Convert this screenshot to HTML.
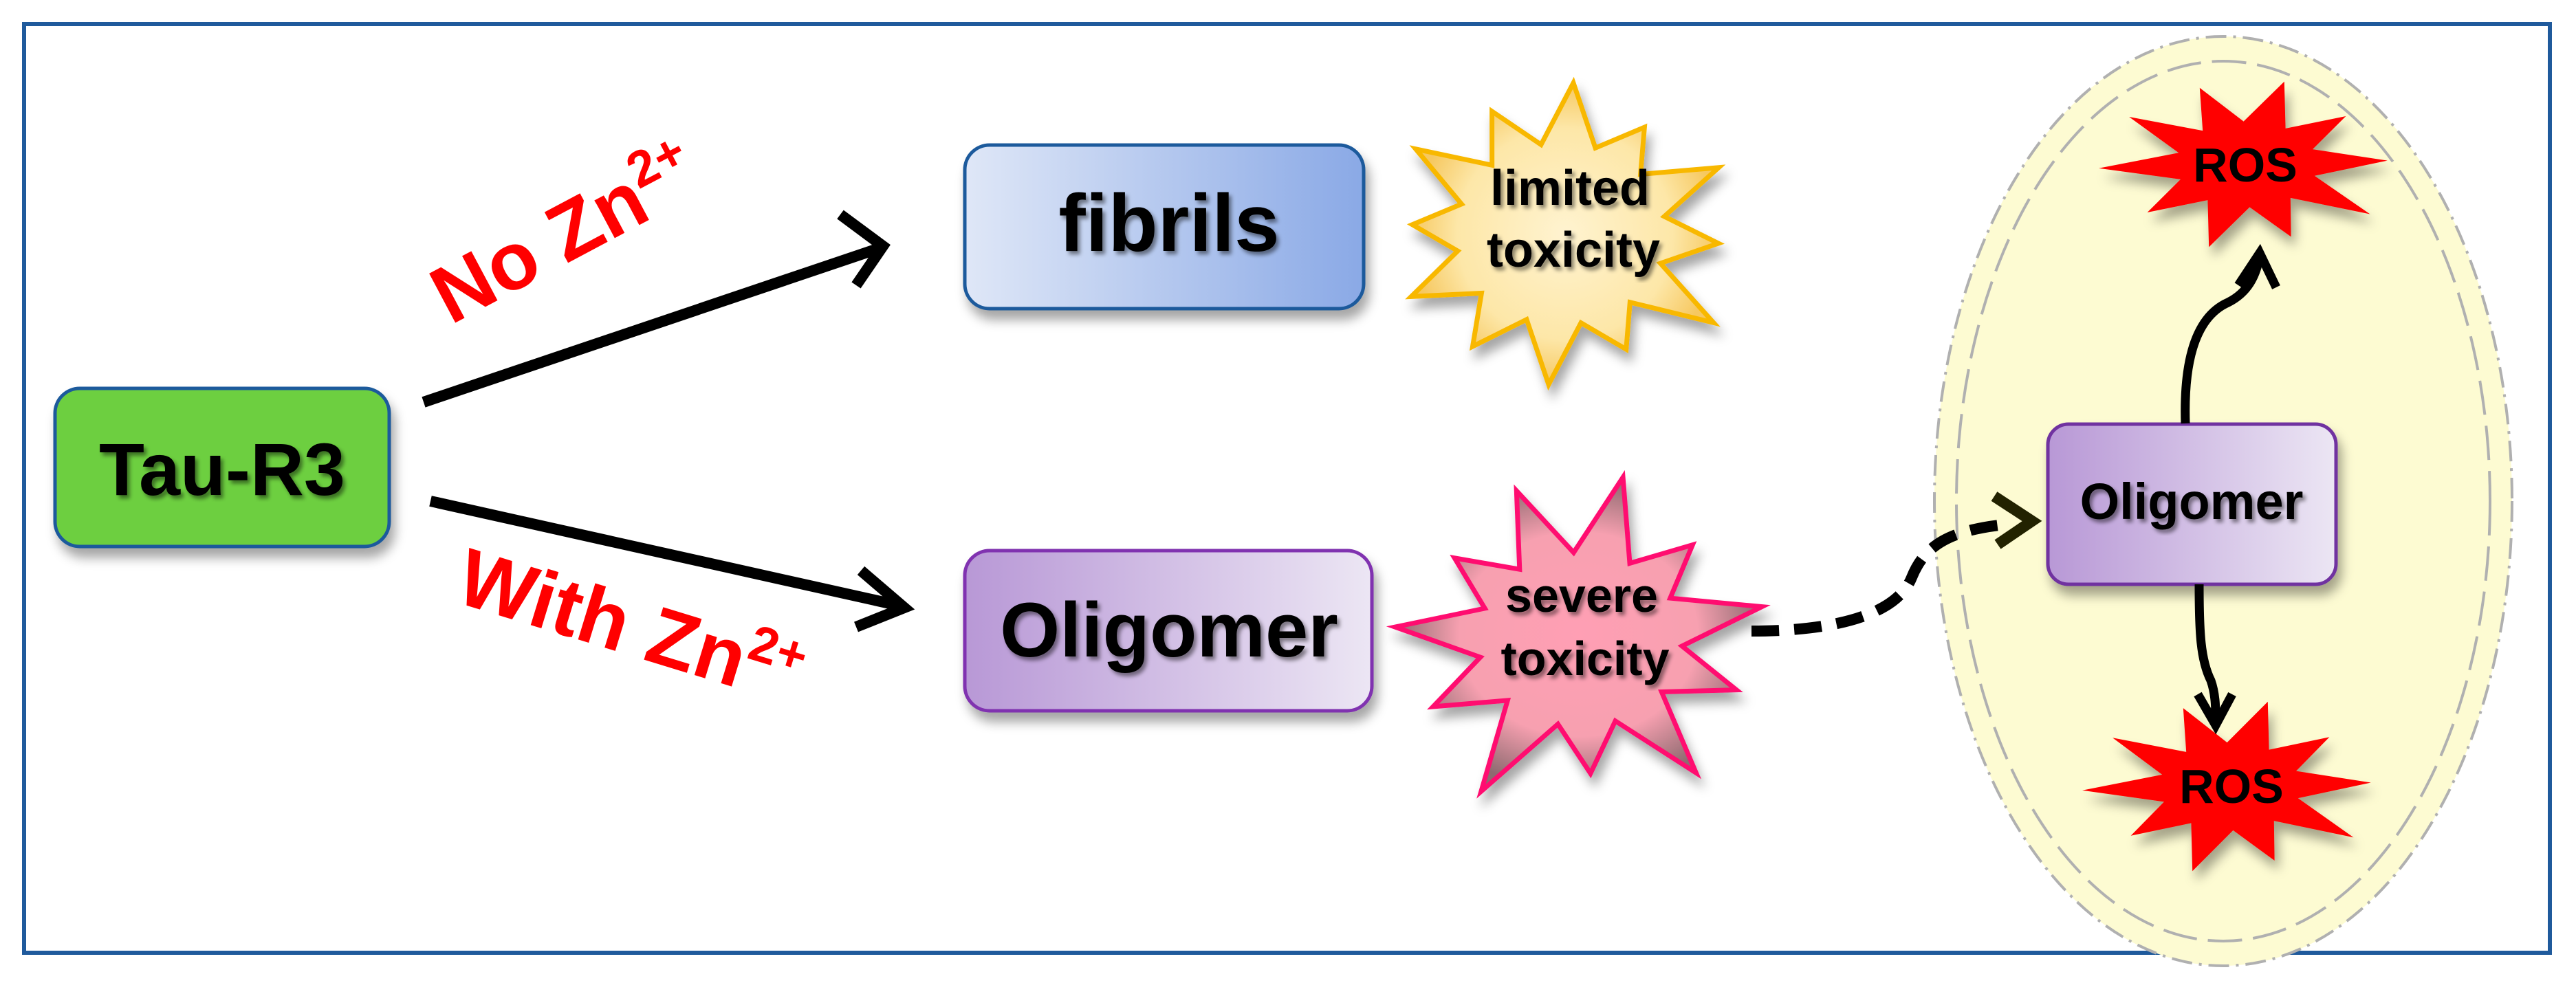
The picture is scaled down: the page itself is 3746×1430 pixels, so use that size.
<!DOCTYPE html>
<html><head><meta charset="utf-8"><style>
html,body{margin:0;padding:0;background:#fff;}
svg{display:block;}
text{font-family:"Liberation Sans",sans-serif;font-weight:bold;}
</style></head><body>
<svg id="s" width="3746" height="1430" viewBox="0 0 3746 1430" xmlns="http://www.w3.org/2000/svg">
<defs>
<linearGradient id="gF" x1="0" x2="1" y1="0" y2="0"><stop offset="0" stop-color="#dfe7f7"/><stop offset="1" stop-color="#8aa9e6"/></linearGradient>
<linearGradient id="gO" x1="0" x2="1" y1="0" y2="0"><stop offset="0" stop-color="#b898d6"/><stop offset="1" stop-color="#ece6f4"/></linearGradient>
<radialGradient id="gY"><stop offset="0" stop-color="#fff3d0"/><stop offset="0.7" stop-color="#fde7a8"/><stop offset="1" stop-color="#f6c860"/></radialGradient>
<radialGradient id="gP"><stop offset="0" stop-color="#ff9fb4"/><stop offset="0.65" stop-color="#f7a0b0"/><stop offset="1" stop-color="#8e6a70"/></radialGradient>
<filter id="sh" x="-10%" y="-10%" width="130%" height="140%"><feDropShadow dx="6" dy="14" stdDeviation="8" flood-color="#000" flood-opacity="0.35"/></filter>
<filter id="ts"><feDropShadow dx="4" dy="5" stdDeviation="3" flood-color="#000" flood-opacity="0.45"/></filter>
</defs>
<rect x="35" y="35" width="3673" height="1351" fill="#fff" stroke="#1f5a9c" stroke-width="6"/>
<ellipse cx="3233" cy="729" rx="420" ry="676" fill="#fdfbd2" stroke="#b0b0b0" stroke-width="4" stroke-dasharray="30 10 4 10"/>
<ellipse cx="3233" cy="729" rx="388" ry="640" fill="none" stroke="#b0b0b0" stroke-width="4" stroke-dasharray="50 16"/>
<rect x="80" y="565" width="486" height="230" rx="36" fill="#6dcf41" stroke="#1f5a9c" stroke-width="5" filter="url(#sh)"/>
<text x="323" y="720" font-size="108" text-anchor="middle" filter="url(#ts)">Tau-R3</text>
<rect x="1403" y="211" width="580" height="238" rx="36" fill="url(#gF)" stroke="#1f5a9c" stroke-width="5" filter="url(#sh)"/>
<text x="1700" y="365" font-size="118" text-anchor="middle" filter="url(#ts)">fibrils</text>
<rect x="1403" y="801" width="592" height="233" rx="36" fill="url(#gO)" stroke="#8030b0" stroke-width="5" filter="url(#sh)"/>
<text x="1700" y="955" font-size="112" text-anchor="middle" filter="url(#ts)">Oligomer</text>
<g stroke="#000" stroke-width="16" fill="none">
<line x1="616" y1="585" x2="1282" y2="360"/>
<polyline points="1222,312 1284,358 1245,415"/>
<line x1="626" y1="729" x2="1312" y2="882"/>
<polyline points="1252,830 1315,884 1245,912"/>
</g>
<text transform="translate(840,375) rotate(-28)" font-size="118" fill="#ff0000" text-anchor="middle">No Zn<tspan font-size="74" dy="-46">2+</tspan></text>
<text transform="translate(905,950) rotate(17)" font-size="118" fill="#ff0000" text-anchor="middle">With Zn<tspan font-size="74" dy="-46">2+</tspan></text>
<polygon id="st1" fill="url(#gY)" stroke="#f8b800" stroke-width="7" filter="url(#sh)"/>
<text x="2283" y="298" font-size="72" text-anchor="middle" filter="url(#ts)">limited</text>
<text x="2288" y="388" font-size="72" text-anchor="middle" filter="url(#ts)">toxicity</text>
<polygon id="st2" fill="url(#gP)" stroke="#ff1070" stroke-width="7" filter="url(#sh)"/>
<text x="2300" y="890" font-size="70" text-anchor="middle" filter="url(#ts)">severe</text>
<text x="2305" y="982" font-size="70" text-anchor="middle" filter="url(#ts)">toxicity</text>
<path d="M2547,918 C2680,918 2760,890 2780,840 C2800,790 2840,770 2925,762" stroke="#000" stroke-width="16" fill="none" stroke-dasharray="40 22"/>
<polyline points="2900,722 2955,758 2905,792" stroke="#222200" stroke-width="16" fill="none"/>
<rect x="2978" y="617" width="419" height="233" rx="30" fill="url(#gO)" stroke="#7030a0" stroke-width="5" filter="url(#sh)"/>
<text x="3187" y="755" font-size="74" text-anchor="middle" filter="url(#ts)">Oligomer</text>
<polygon id="st3" fill="#ff0000" filter="url(#sh)"/>
<polygon id="st4" fill="#ff0000" filter="url(#sh)"/>
<text x="3265" y="264" font-size="70" text-anchor="middle">ROS</text>
<text x="3245" y="1168" font-size="70" text-anchor="middle">ROS</text>
<path d="M3178,616 C3175,520 3195,460 3240,440 C3270,425 3280,400 3285,378" stroke="#000" stroke-width="13" fill="none"/>
<polyline points="3255,415 3286,368 3310,418" stroke="#000" stroke-width="13" fill="none"/>
<path d="M3198,850 C3198,920 3200,960 3215,990 C3222,1010 3222,1030 3222,1048" stroke="#000" stroke-width="13" fill="none"/>
<polyline points="3196,1010 3222,1055 3246,1010" stroke="#000" stroke-width="13" fill="none"/>
</svg>
<script>
function star(id,cx,cy,rx,ry,inr,n,rot,jit){
 var p=[];for(var i=0;i<2*n;i++){var a=rot+Math.PI*i/n;var k=(i%2==0)?1:inr;
 if(jit&&i%2==0){k*=jit[(i/2)%jit.length];}
 p.push((cx+Math.cos(a)*rx*k).toFixed(1)+","+(cy+Math.sin(a)*ry*k).toFixed(1));}
 document.getElementById(id).setAttribute("points",p.join(" "));}
star("st1",2270,340,255,220,0.6,12,-1.5,[1,0.85,1,0.9,1.05,0.85,1,0.9,0.95,0.85,1,0.9]);
star("st2",2298,930,270,230,0.55,11,-1.35,[1.05,0.85,1,0.9,1.05,0.85,1.1,0.9,1,0.85,1]);
star("st3",3267,239,205,125,0.5,10,-1.3,[1,0.9,1,1.05,0.9,1,0.9,1.05,1,0.95]);
star("st4",3243,1144,205,128,0.5,10,-1.3,[1,0.9,1,1.05,0.9,1,0.9,1.05,1,0.95]);
</script>
</body></html>
